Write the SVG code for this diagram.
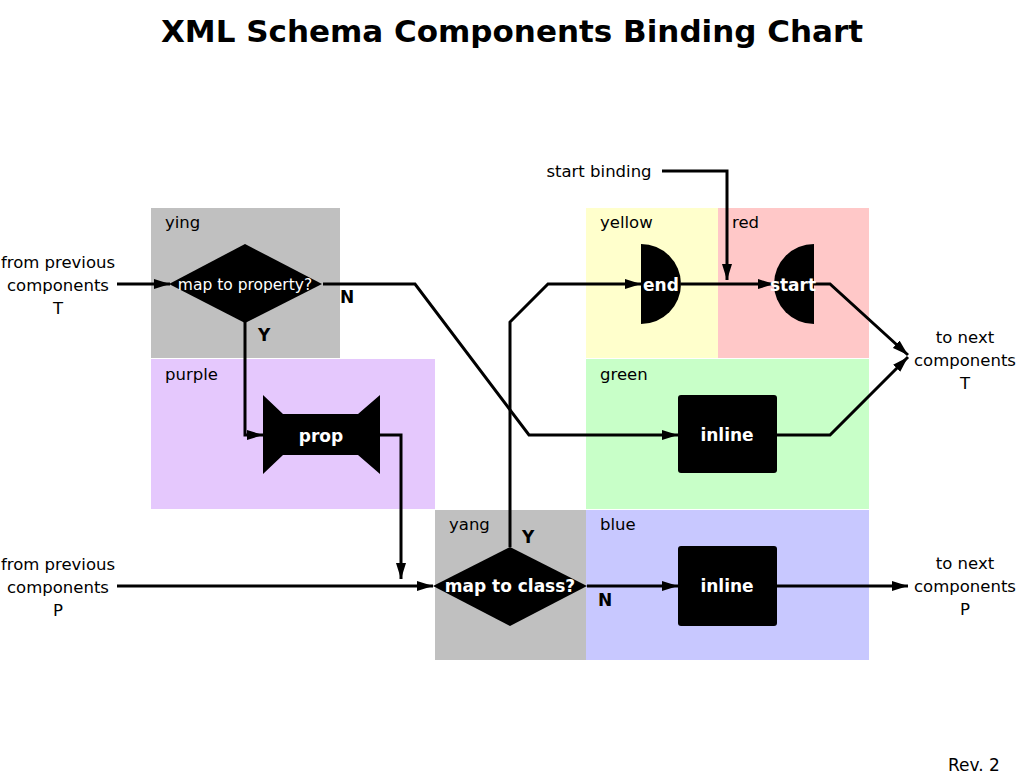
<svg xmlns="http://www.w3.org/2000/svg" width="1023" height="776" viewBox="0 0 1023 776">
<defs>
<style>
text{font-family:"DejaVu Sans","Liberation Sans",sans-serif;fill:#000}
.lbl{font-size:16.5px}
.reg{font-size:16.5px}
.w{fill:#fff;font-weight:bold;font-size:17px;text-anchor:middle}
.yn{font-weight:bold;font-size:17px}
.c{stroke:#000;stroke-width:3;fill:none;stroke-linejoin:miter}
.mid{text-anchor:middle}
</style>
<marker id="ah" viewBox="0 0 16 10" refX="16" refY="5" markerWidth="16" markerHeight="10" markerUnits="userSpaceOnUse" orient="auto">
<path d="M0,0 L16,5 L0,10 Z" fill="#000"/>
</marker>
</defs>
<rect width="1023" height="776" fill="#fff"/>
<text x="512" y="42" class="mid" style="font-size:31px;font-weight:bold">XML Schema Components Binding Chart</text>

<g id="regions">
<g id="ying"><rect x="151" y="208" width="189" height="150" fill="#c0c0c0"/><text x="165" y="228" class="reg">ying</text></g>
<g id="purple"><rect x="151" y="359" width="284" height="150" fill="#e5c8fd"/><text x="165" y="380" class="reg">purple</text></g>
<g id="yellow"><rect x="586" y="208" width="132" height="150" fill="#ffffcc"/><text x="600" y="228" class="reg">yellow</text></g>
<g id="red"><rect x="718" y="208" width="151" height="150" fill="#ffc8c8"/><text x="732" y="228" class="reg">red</text></g>
<g id="green"><rect x="586" y="359" width="283" height="150" fill="#c8ffc8"/><text x="600" y="380" class="reg">green</text></g>
<g id="yang"><rect x="435" y="510" width="151" height="150" fill="#c0c0c0"/><text x="449" y="530" class="reg">yang</text></g>
<g id="blue"><rect x="586" y="510" width="283" height="150" fill="#c8c8ff"/><text x="600" y="530" class="reg">blue</text></g>
</g>

<g id="connectors">
<path class="c" d="M117,284 L170,284" marker-end="url(#ah)"/>
<path class="c" d="M323,284 L415,284 L529,435 L678,435" marker-end="url(#ah)"/>
<path class="c" d="M245,322 L245,435 L263,435" marker-end="url(#ah)"/>
<path class="c" d="M380,435 L401,435 L401,579" marker-end="url(#ah)"/>
<path class="c" d="M117,586 L433,586" marker-end="url(#ah)"/>
<path class="c" d="M510,547 L510,322 L548,284 L641,284" marker-end="url(#ah)"/>
<path class="c" d="M587,586 L678,586" marker-end="url(#ah)"/>
<path class="c" d="M777,586 L908,586" marker-end="url(#ah)"/>
<path class="c" d="M681,284 L774,284" marker-end="url(#ah)"/>
<path class="c" d="M662,171 L727,171 L727,280" marker-end="url(#ah)"/>
<path class="c" d="M814,284 L830,284 L908,355" marker-end="url(#ah)"/>
<path class="c" d="M777,435 L830,435 L908,357" marker-end="url(#ah)"/>
</g>

<g id="map-to-property">
<path d="M169,284 L245,244 L322,284 L245,323 Z" fill="#000"/>
<text x="245" y="290" class="mid" style="fill:#fff;font-size:15.5px">map to property?</text>
</g>
<g id="prop">
<path d="M263,395 L283,414 L358,414 L380,395 L380,474 L358,455 L283,455 L263,474 Z" fill="#000"/>
<text x="321" y="442" class="w">prop</text>
</g>
<g id="map-to-class">
<path d="M433,586 L510,547 L587,586 L510,626 Z" fill="#000"/>
<text x="510" y="592" class="w">map to class?</text>
</g>
<g id="end">
<path d="M641,244 A40,40 0 0 1 641,324 Z" fill="#000"/>
<text x="661" y="291" class="w">end</text>
</g>
<g id="start">
<path d="M814,244 A40,40 0 0 0 814,324 Z" fill="#000"/>
<text x="793" y="291" class="w">start</text>
</g>
<g id="inline-green">
<rect x="678" y="395" width="99" height="78" rx="3" fill="#000"/>
<text x="727" y="441" class="w">inline</text>
</g>
<g id="inline-blue">
<rect x="678" y="546" width="99" height="80" rx="3" fill="#000"/>
<text x="727" y="592" class="w">inline</text>
</g>

<g id="labels">
<text x="340" y="303" class="yn">N</text>
<text x="258" y="341" class="yn">Y</text>
<text x="522" y="543" class="yn">Y</text>
<text x="598" y="606" class="yn">N</text>
<text class="lbl mid"><tspan x="58" y="268">from previous</tspan><tspan x="58" y="291">components</tspan><tspan x="58" y="314">T</tspan></text>
<text class="lbl mid"><tspan x="58" y="570">from previous</tspan><tspan x="58" y="593">components</tspan><tspan x="58" y="616">P</tspan></text>
<text class="lbl mid"><tspan x="965" y="343">to next</tspan><tspan x="965" y="366">components</tspan><tspan x="965" y="389">T</tspan></text>
<text class="lbl mid"><tspan x="965" y="569">to next</tspan><tspan x="965" y="592">components</tspan><tspan x="965" y="615">P</tspan></text>
<text x="599" y="177" class="lbl mid">start binding</text>
<text x="974" y="771" class="mid" style="font-size:17px">Rev. 2</text>
</g>
</svg>
